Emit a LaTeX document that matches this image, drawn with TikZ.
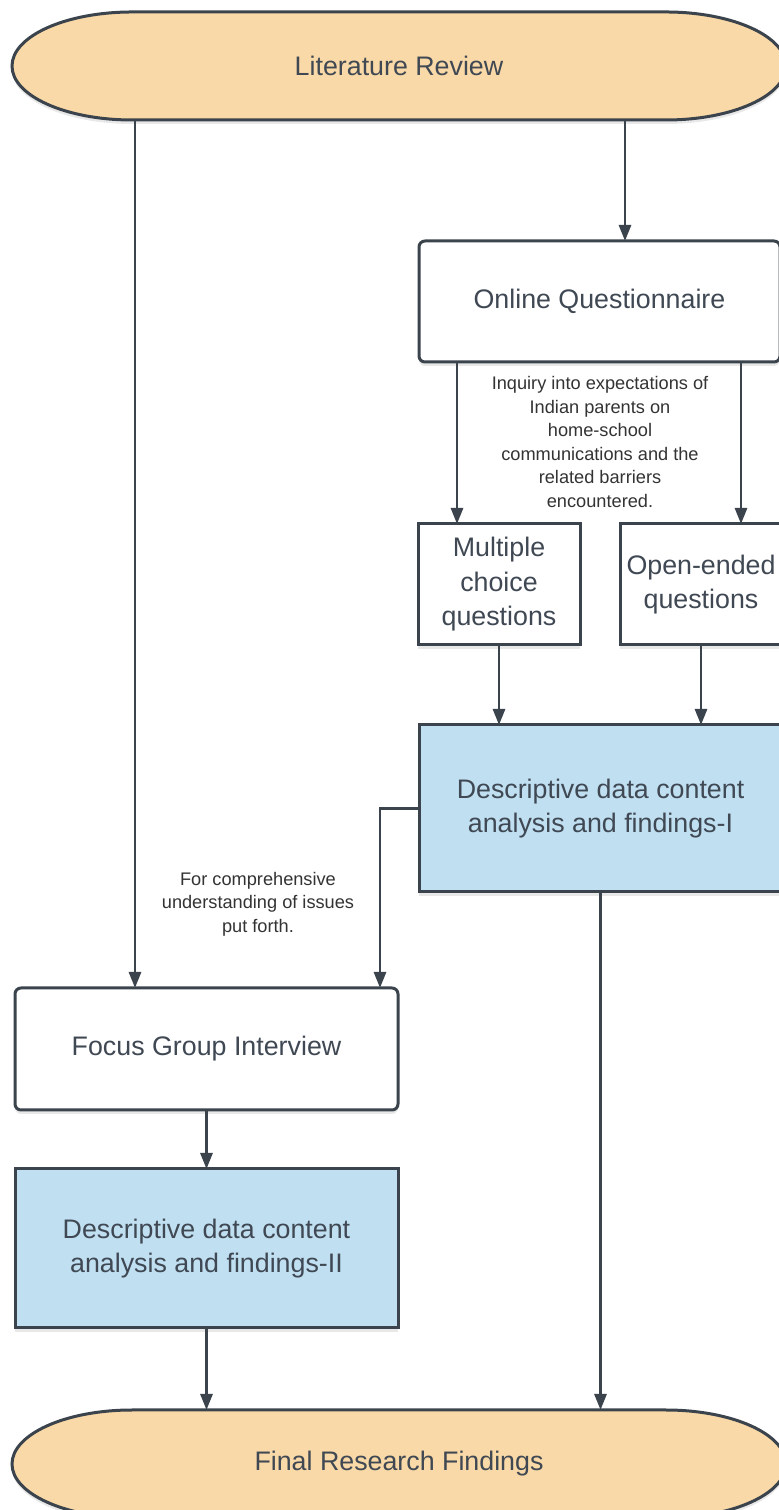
\documentclass[tikz,border=0pt]{standalone}
\usepackage{fontspec}
\setmainfont{Liberation Sans}
\usetikzlibrary{positioning, arrows.meta, calc, shadows}
\definecolor{peach}{HTML}{F9D9A7}
\definecolor{paleblue}{HTML}{C0E0F2}
\definecolor{edge}{HTML}{3B434C}
\definecolor{ink}{HTML}{3F4853}

\tikzset{
  shade/.style={drop shadow={opacity=0.18, shadow xshift=0pt, shadow yshift=-2pt}},
  box/.style={draw=edge, line width=1.5pt, fill=white, text=ink, align=center,
    font=\fontsize{13.4}{17.25}\selectfont, inner sep=0pt, outer sep=0pt, shade},
  termline/.style={draw=edge, line width=1.5pt, fill=peach, shade},
  termnode/.style={minimum width=387pt, minimum height=54pt, inner sep=0pt, outer sep=0pt,
    text=ink, font=\fontsize{13.4}{17.25}\selectfont},
  note/.style={align=center, text=black!80, font=\fontsize{9.1}{11.75}\selectfont},
  arr/.style={->, draw=edge, line width=1.4pt}
}

% terminal: name, centre, text
\newcommand{\terminal}[3]{%
  \draw[termline] ($#2+(-267,54)$) -- ($#2+(267,54)$)
    arc[start angle=90, end angle=-90, x radius=60pt, y radius=27pt]
    -- ($#2+(-267,-54)$)
    arc[start angle=270, end angle=90, x radius=60pt, y radius=27pt] -- cycle;
  \node (#1)[termnode] at #2 {#3};}

\begin{document}
\begin{tikzpicture}[x=0.5pt, y=0.5pt, >={Triangle[length=8pt, width=6pt]}]
    \useasboundingbox (0,0) rectangle (779,1510);

    % Start and end
    \terminal{lit}{(399,1444)}{Literature Review}
    \terminal{fin}{(399,46)}{Final Research Findings}

    % Boxes
    \node (oq)[box, rounded corners=3pt, minimum width=180.5pt, minimum height=60.5pt] at (599.5,1208.5) {Online Questionnaire};
    \node (mcq)[box, minimum width=81pt, minimum height=60.5pt] at (499,925.5) {Multiple\\choice\\questions};
    \node (oeq)[box, minimum width=81pt, minimum height=60.5pt] at (701,925.5) {Open-ended\\questions};
    \node (dd1)[box, fill=paleblue, minimum width=181.5pt, minimum height=83.5pt] at (600.5,701.5) {Descriptive data content\\analysis and findings-I};
    \node (fgi)[box, rounded corners=3pt, minimum width=191.5pt, minimum height=61pt] at (206.5,461) {Focus Group Interview};
    \node (dd2)[box, fill=paleblue, minimum width=191.5pt, minimum height=79.5pt] at (206.5,261.5) {Descriptive data content\\analysis and findings-II};

    % Notes
    \node (inq)[note] at (600,1068) {Inquiry into expectations of\\Indian parents on\\home-school\\communications and the\\related barriers\\encountered.};
    \node (why)[note] at (258,606) {For comprehensive\\understanding of issues\\put forth.};

    % Arrow feet
    \coordinate (a1) at ([xshift=60pt]fgi.north west);
    \coordinate (a2) at ([xshift=12.75pt]oq.north);
    \coordinate (a3) at ([xshift=-21pt]mcq.north);
    \coordinate (a4) at ([xshift=20pt]oeq.north);
    \coordinate (a5) at ([xshift=-9pt]fgi.north east);

    % Connectors
    \draw[arr] (a1 |- lit.south) -- (a1);
    \draw[arr] (a2 |- lit.south) -- (a2);
    \draw[arr] (a3 |- oq.south) -- (a3);
    \draw[arr] (a4 |- oq.south) -- (a4);
    \draw[arr] (mcq.south) -- (mcq.south |- dd1.north);
    \draw[arr] (oeq.south) -- (oeq.south |- dd1.north);
    \draw[arr] (dd1.west) -| (a5);
    \draw[arr] (fgi) -- (dd2);
    \draw[arr] (dd2.south) -- (dd2.south |- fin.north);
    \draw[arr] (dd1.south) -- (dd1.south |- fin.north);
\end{tikzpicture}
\end{document}
